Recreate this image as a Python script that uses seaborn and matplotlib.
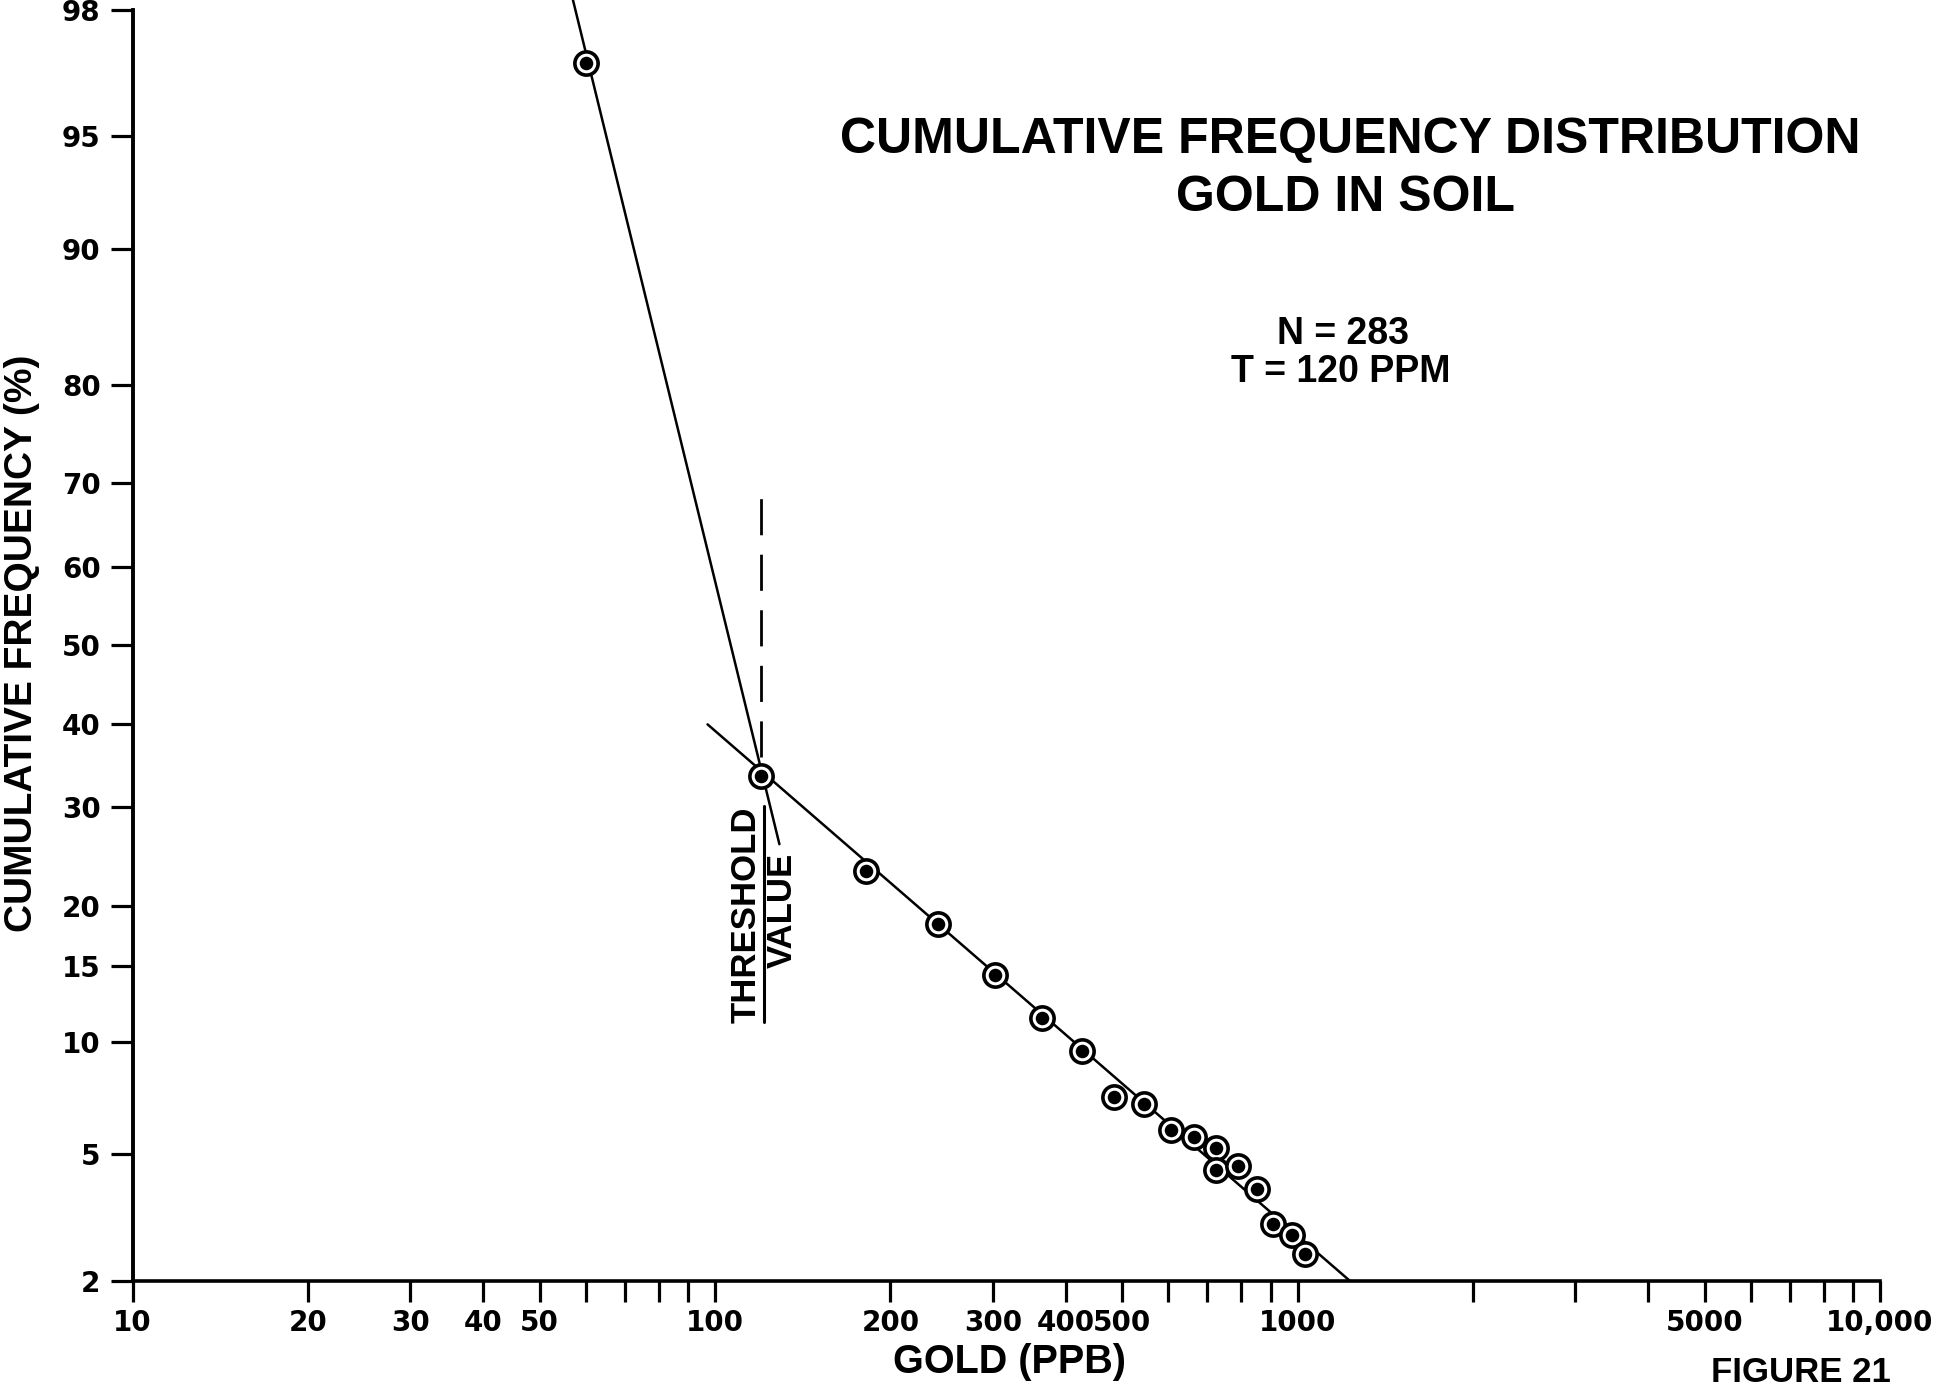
import numpy as np
import pandas as pd
import matplotlib
matplotlib.use("Agg")
import matplotlib.pyplot as plt
import seaborn as sns
from statistics import NormalDist
from matplotlib.lines import Line2D
from matplotlib.ticker import NullLocator, NullFormatter

# ---------------- data ----------------
gold_ppb = [60, 120, 182, 241, 302, 364, 427, 485, 545, 607, 663, 724, 724, 791, 851, 907, 980, 1030]
cum_freq = [97.0, 33.6, 23.3, 18.4, 14.3, 11.4, 9.5, 7.2, 6.9, 5.85, 5.6, 5.2, 4.5, 4.6, 3.95, 3.06, 2.82, 2.45]

background_line_x = [57.0, 129.0]
background_line_y = [98.16, 26.0]
anomalous_line_x = [97.1, 1228.0]
anomalous_line_y = [39.9, 2.0]
threshold = 120
threshold_dash_y = [68.3, 35.9]

y_ticks = [2, 5, 10, 15, 20, 30, 40, 50, 60, 70, 80, 90, 95, 98]
x_major = [10, 20, 30, 40, 50, 100, 200, 300, 400, 500, 1000, 5000, 10000]
x_major_labels = ["10", "20", "30", "40", "50", "100", "200", "300", "400", "500", "1000", "5000", "10,000"]
x_minor = [60, 70, 80, 90, 600, 700, 800, 900, 2000, 3000, 4000, 6000, 7000, 8000, 9000]

title_lines = ["CUMULATIVE FREQUENCY DISTRIBUTION", "GOLD IN SOIL"]
stats_lines = ["N = 283", "T = 120 PPM"]

# ---------------- style ----------------
sns.set_theme(style="white")
plt.rcParams['font.family'] = ['Liberation Sans', 'DejaVu Sans']
plt.rcParams['font.weight'] = 'bold'
plt.rcParams['text.color'] = 'black'
plt.rcParams['axes.labelcolor'] = 'black'
plt.rcParams['xtick.color'] = 'black'
plt.rcParams['ytick.color'] = 'black'

W, H = 1938, 1388
fig = plt.figure(figsize=(W / 100, H / 100), dpi=100)
fig.patch.set_facecolor("white")

def fx(px):
    return px / W

def fy(py):
    return 1 - py / H

ax_left, ax_right, ax_top, ax_bottom = 132.5, 1880.0, 9.9, 1280.5
ax = fig.add_axes([fx(ax_left), fy(ax_bottom), (ax_right - ax_left) / W, (ax_bottom - ax_top) / H])
ax.set_facecolor("white")

nd = NormalDist()
_ppf = np.vectorize(lambda v: nd.inv_cdf(v / 100.0), otypes=[float])
_cdf = np.vectorize(lambda v: nd.cdf(v) * 100.0, otypes=[float])

def prob_forward(p):
    p = np.clip(np.asarray(p, dtype=float), 1e-6, 100 - 1e-6)
    return _ppf(p)

def prob_inverse(z):
    return _cdf(np.asarray(z, dtype=float))

ax.set_xscale("log")
ax.set_yscale("function", functions=(prob_forward, prob_inverse))

# lines
sns.lineplot(x=background_line_x, y=background_line_y, ax=ax, color="black",
             linewidth=1.8, sort=False, clip_on=False, zorder=2)
sns.lineplot(x=anomalous_line_x, y=anomalous_line_y, ax=ax, color="black",
             linewidth=1.8, sort=False, zorder=2)
ax.vlines(threshold, threshold_dash_y[1], threshold_dash_y[0], colors="black",
          linewidth=2.0, linestyles=[(0, (13, 7))], zorder=2)

# points: open ring with filled centre
pts = pd.DataFrame({"gold": gold_ppb, "freq": cum_freq})
sns.scatterplot(data=pts, x="gold", y="freq", ax=ax, s=280, marker="o",
                facecolor="white", edgecolor="black", linewidth=2.6, zorder=3)
sns.scatterplot(data=pts, x="gold", y="freq", ax=ax, s=95, marker="o",
                color="black", edgecolor="black", linewidth=0, zorder=4)

ax.set_xlim(10, 10000)
ax.set_ylim(2, 98)

ax.set_xticks(x_major)
ax.set_xticklabels(x_major_labels)
ax.set_xticks(x_minor, minor=True)
ax.xaxis.set_minor_formatter(NullFormatter())
ax.set_yticks(y_ticks)
ax.set_yticklabels([str(v) for v in y_ticks])
ax.yaxis.set_minor_locator(NullLocator())

ax.tick_params(axis="y", which="major", direction="out", length=16, width=2.3,
               pad=7, labelsize=20, colors="black", left=True)
ax.tick_params(axis="x", which="both", direction="out", length=15, width=2.3,
               pad=5.5, labelsize=20, colors="black", bottom=True)
for lab in ax.get_xticklabels() + ax.get_yticklabels():
    lab.set_fontweight("bold")
    lab.set_family(["DejaVu Sans"])

sns.despine(ax=ax)
ax.spines["left"].set_linewidth(2.8)
ax.spines["bottom"].set_linewidth(2.6)
ax.spines["left"].set_color("black")
ax.spines["bottom"].set_color("black")
ax.grid(False)

# axis labels
ax.set_xlabel("GOLD (PPB)", fontsize=28.5, fontweight="bold", color="black")
ax.xaxis.label.set_va("center")
ax.xaxis.set_label_coords((1009 - ax_left) / (ax_right - ax_left), (ax_bottom - 1362) / (ax_bottom - ax_top))
ax.set_ylabel("CUMULATIVE FREQUENCY (%)", fontsize=28, fontweight="bold", color="black")
ax.yaxis.label.set_va("center")
ax.yaxis.label.set_ha("center")
ax.yaxis.set_label_coords((22 - ax_left) / (ax_right - ax_left), (ax_bottom - 643) / (ax_bottom - ax_top))

# title and notes
fig.text(fx(1350), fy(140), title_lines[0], ha="center", va="center", fontsize=36, fontweight="bold")
fig.text(fx(1345), fy(198), title_lines[1], ha="center", va="center", fontsize=36, fontweight="bold")
fig.text(fx(1343), fy(334), stats_lines[0], ha="center", va="center", fontsize=27, fontweight="bold")
fig.text(fx(1341), fy(372), stats_lines[1], ha="center", va="center", fontsize=27, fontweight="bold")
fig.text(fx(1801), fy(1372), "FIGURE 21", ha="center", va="center", fontsize=25, fontweight="bold")

# threshold label (fraction style, rotated)
fig.text(fx(746.5), fy(915), "THRESHOLD", rotation=90, ha="center", va="center",
         fontsize=25, fontweight="bold")
fig.text(fx(782), fy(910), "VALUE", rotation=90, ha="center", va="center",
         fontsize=25, fontweight="bold")
fig.add_artist(Line2D([fx(764), fx(764)], [fy(806), fy(1022)], color="black",
                      linewidth=2.2, transform=fig.transFigure))

fig.savefig("out.png", dpi=100, facecolor="white")
